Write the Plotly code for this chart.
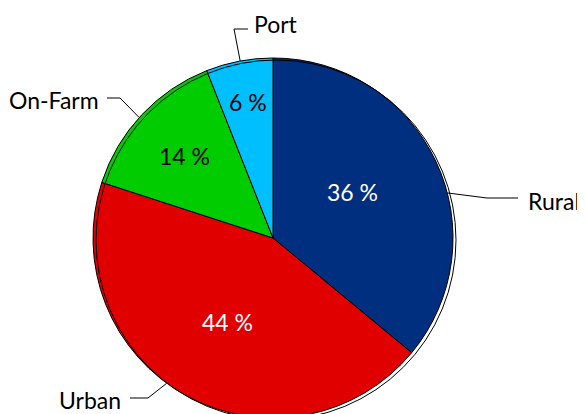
import math
import plotly.graph_objects as go

# ---- data ----
categories = ["Rural", "Urban", "On-Farm", "Port"]
shares = [36, 44, 14, 6]
colors = ["#002F80", "#E00000", "#00CC00", "#00BFFF"]
text_colors = ["white", "white", "black", "black"]

# ---- layout (pixels in the browser window) ----
W, H = 585, 414
BODY = 8            # default page margin around the plot div
CX, CY, R = 273, 238, 180
FONT = "Lato"
FS = 23

def px(x):
    return (x - BODY) / W

def py(y):
    return 1 - (y - BODY) / H

fig = go.Figure(go.Pie(
    labels=categories,
    values=shares,
    sort=False,
    direction="clockwise",
    rotation=0,
    marker=dict(colors=colors, line=dict(color="black", width=1)),
    textinfo="none",
    hoverinfo="label+percent",
    domain=dict(x=[px(CX - R), px(CX + R)], y=[py(CY + R), py(CY - R)]),
    showlegend=False,
))

# value-label placement per slice: angle (deg, clockwise from top), radius fraction
value_pos = {
    "Rural":   (60.0, 0.51),
    "Urban":   (208.7, 0.53),
    "On-Farm": (312.6, 0.67),
    "Port":    (349.7, 0.77),
}

# leader-line geometry per label: attach angle, elbow point, end point, label anchor
leaders = {
    "Rural":   dict(ang=75.5,  elbow=(487, 198), end=(518, 198), txt=(526, 201), xanchor="left"),
    "Urban":   dict(ang=216.2, elbow=(148, 398), end=(130, 398), txt=(123, 400), xanchor="right"),
    "On-Farm": dict(ang=312.0, elbow=(120, 98),  end=(107, 98),  txt=(101, 100), xanchor="right"),
    "Port":    dict(ang=349.5, elbow=(234, 29),  end=(248, 29),  txt=(252, 24),  xanchor="left"),
}

shapes = []
annotations = []
for cat, val, tcol in zip(categories, shares, text_colors):
    ang, rf = value_pos[cat]
    a = math.radians(ang)
    annotations.append(dict(
        text=f"{val} %", x=px(CX + rf * R * math.sin(a)), y=py(CY - rf * R * math.cos(a)),
        xref="paper", yref="paper", xanchor="center", yanchor="middle", showarrow=False,
        font=dict(family=FONT, size=FS, color=tcol),
    ))

    L = leaders[cat]
    a = math.radians(L["ang"])
    ax, ay = CX + R * math.sin(a), CY - R * math.cos(a)
    ex, ey = L["elbow"]
    fx, fy = L["end"]
    shapes.append(dict(
        type="path", xref="paper", yref="paper",
        path=f"M {px(ax)},{py(ay)} L {px(ex)},{py(ey)} L {px(fx)},{py(fy)}",
        line=dict(color="black", width=1),
    ))
    tx, ty = L["txt"]
    annotations.append(dict(
        text=cat, x=px(tx), y=py(ty), xref="paper", yref="paper",
        xanchor=L["xanchor"], yanchor="middle", showarrow=False,
        font=dict(family=FONT, size=FS, color="black"),
    ))

# offset outline ring
off_x, off_y = 3, 2
shapes.append(dict(
    type="circle", xref="paper", yref="paper", layer="above",
    x0=px(CX - R + off_x), x1=px(CX + R + off_x),
    y0=py(CY + R + off_y), y1=py(CY - R + off_y),
    line=dict(color="black", width=1),
))

fig.update_layout(
    width=W, height=H,
    margin=dict(l=0, r=0, t=0, b=0),
    paper_bgcolor="white",
    plot_bgcolor="white",
    font=dict(family=FONT, size=FS),
    shapes=shapes,
    annotations=annotations,
)

fig.write_html("out.html")
